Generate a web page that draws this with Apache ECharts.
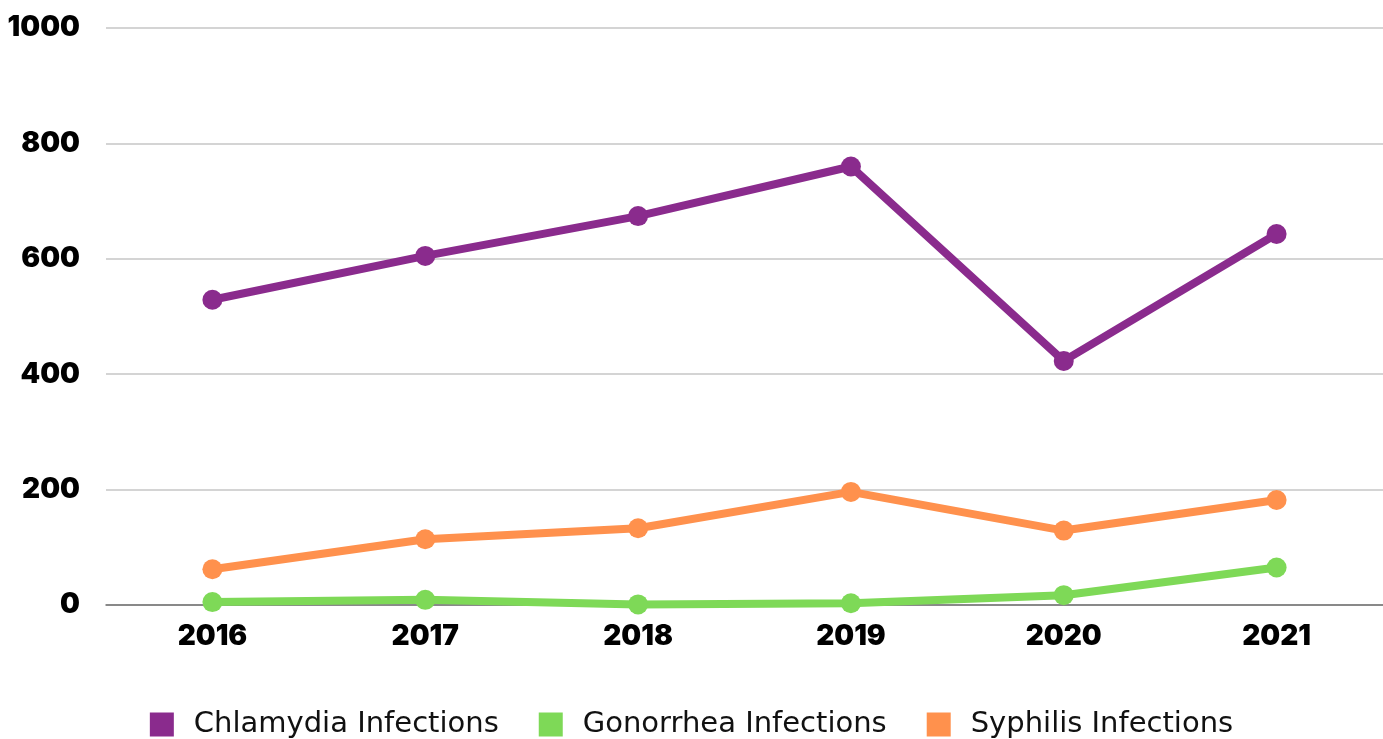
<!DOCTYPE html>
<html>
<head>
<meta charset="utf-8">
<script src="https://cdn.jsdelivr.net/npm/echarts@6/dist/echarts.min.js"></script>
<style>
  html, body { margin: 0; padding: 0; background: #fff; }
  #chart { width: 1383px; height: 739px; }
</style>
</head>
<body>
<div id="chart"></div>
<script>
// Reported infections per year
const years = ['2016', '2017', '2018', '2019', '2020', '2021'];
const chlamydia = [529, 605, 674, 760, 423, 643];
const gonorrhea = [5, 9, 1, 3, 17, 65];
const syphilis = [62, 114, 133, 196, 129, 182];
const yTicks = { min: 0, max: 1000, interval: 200 };

const colors = { chlamydia: '#8A2B8D', gonorrhea: '#7ED957', syphilis: '#FF914D' };

function lineSeries(name, data, color) {
  return {
    name: name,
    type: 'line',
    data: data,
    symbol: 'circle',
    symbolSize: 20,
    lineStyle: { width: 8, color: color },
    itemStyle: { color: color },
    emphasis: { disabled: true }
  };
}

const chart = echarts.init(document.getElementById('chart'), null, { renderer: 'canvas' });
chart.setOption({
  animation: false,
  backgroundColor: '#ffffff',
  grid: { left: 106, right: 0, top: 28, bottom: 134, containLabel: false },
  legend: {
    left: 'center',
    top: 705,
    icon: 'rect',
    itemWidth: 24,
    itemHeight: 24,
    itemGap: 40,
    textStyle: { fontFamily: 'DejaVu Sans', fontSize: 29, color: '#111', padding: [0, 0, 0, 15] },
    data: ['Chlamydia Infections', 'Gonorrhea Infections', 'Syphilis Infections']
  },
  xAxis: {
    type: 'category',
    data: years,
    boundaryGap: true,
    axisLine: { lineStyle: { color: '#707070', width: 1.5 } },
    axisTick: { show: false },
    axisLabel: { fontFamily: 'Inter', fontWeight: 900, fontSize: 28, color: '#000', margin: 18 }
  },
  yAxis: {
    type: 'value',
    min: yTicks.min,
    max: yTicks.max,
    interval: yTicks.interval,
    axisLine: { show: false },
    axisTick: { show: false },
    splitLine: { lineStyle: { color: '#c6c6c6', width: 1.5 } },
    axisLabel: {
      fontFamily: 'Inter', fontWeight: 900, fontSize: 28, color: '#000', margin: 26,
      formatter: function (v) { return String(v); }
    }
  },
  series: [
    lineSeries('Chlamydia Infections', chlamydia, colors.chlamydia),
    lineSeries('Gonorrhea Infections', gonorrhea, colors.gonorrhea),
    lineSeries('Syphilis Infections', syphilis, colors.syphilis)
  ]
});
</script>
</body>
</html>
